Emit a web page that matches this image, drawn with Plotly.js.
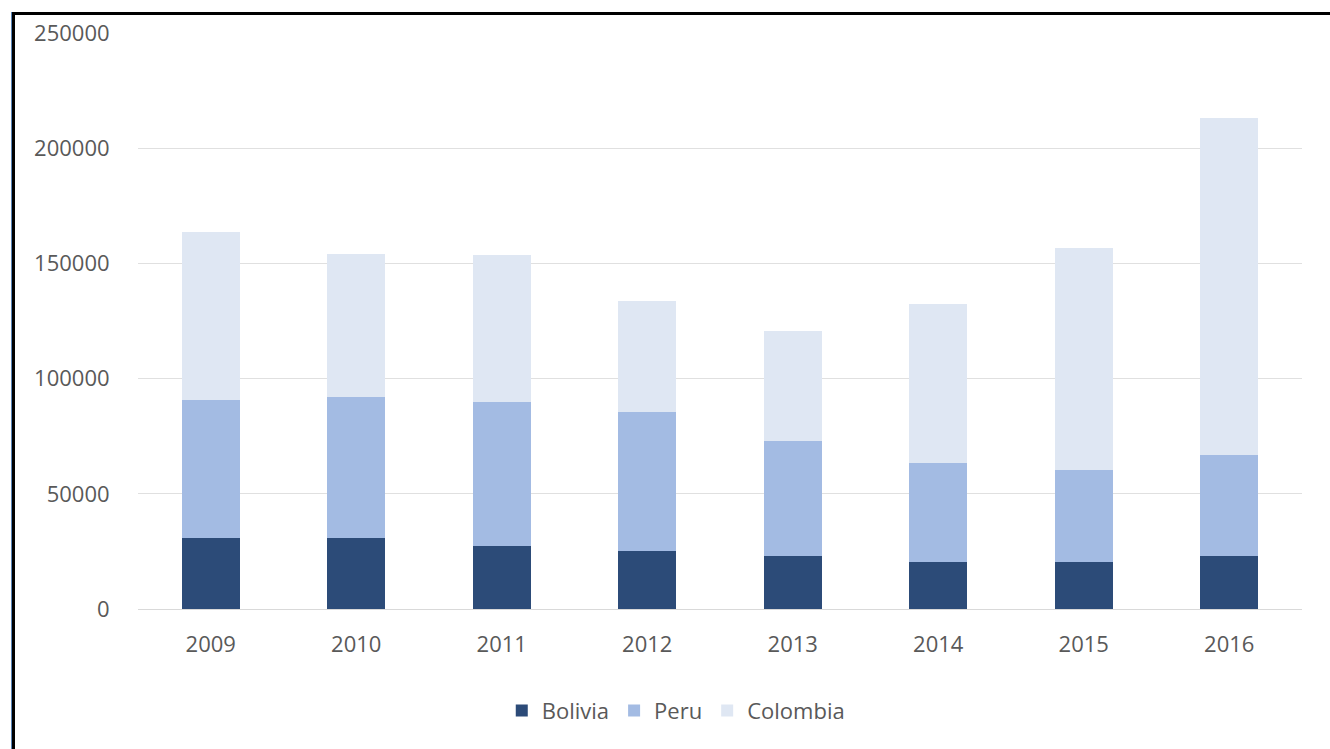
<!DOCTYPE html>
<html>
<head>
<meta charset="utf-8">
<script src="https://cdn.plot.ly/plotly-3.0.1.min.js"></script>
<style>
  html, body { margin: 0; padding: 0; background: #ffffff; }
  #wrap { position: relative; width: 1330px; height: 749px; overflow: hidden; }
  #chart { position: absolute; left: 0; top: 0; width: 1330px; height: 749px; }
  .frame-top { position: absolute; left: 12px; top: 12px; width: 1318px; height: 3px; background: #000; }
  .frame-left { position: absolute; left: 12px; top: 12px; width: 3px; height: 737px; background: #000; }
  .frame-blue { position: absolute; left: 11px; top: 12px; width: 1px; height: 737px; background: #5b86b8; }
</style>
</head>
<body>
<div id="wrap">
  <div id="chart"></div>
  <div class="frame-top"></div>
  <div class="frame-left"></div>
  <div class="frame-blue"></div>
</div>
<script>
const years = ['2009', '2010', '2011', '2012', '2013', '2014', '2015', '2016'];
const bolivia = [30900, 31000, 27200, 25300, 23000, 20400, 20200, 23100];
const peru = [59900, 61200, 62500, 60400, 49800, 42900, 40300, 43900];
const colombia = [73000, 62000, 64000, 48000, 48000, 69000, 96000, 146000];

const fontFam = '"Open Sans", "Liberation Sans", Arial, sans-serif';
const textColor = '#595959';

const traces = [
  { name: 'Bolivia', x: years, y: bolivia, type: 'bar', marker: { color: '#2c4b78' } },
  { name: 'Peru', x: years, y: peru, type: 'bar', marker: { color: '#a3bbe3' } },
  { name: 'Colombia', x: years, y: colombia, type: 'bar', marker: { color: '#dfe7f3' } }
];

const layout = {
  width: 1330,
  height: 749,
  margin: { l: 138, r: 28, t: 33, b: 140 },
  paper_bgcolor: '#ffffff',
  plot_bgcolor: '#ffffff',
  barmode: 'stack',
  bargap: 0.6,
  font: { family: fontFam, color: textColor, size: 22 },
  showlegend: true,
  legend: {
    orientation: 'h',
    x: 0.462, xanchor: 'center',
    y: -0.14, yanchor: 'top',
    font: { family: fontFam, size: 22, color: textColor },
    itemwidth: 30,
    traceorder: 'normal'
  },
  xaxis: {
    type: 'category',
    showgrid: false,
    showline: true,
    linecolor: '#d9d9d9',
    linewidth: 1,
    ticks: 'outside',
    ticklen: 16,
    tickcolor: 'rgba(0,0,0,0)',
    tickfont: { family: fontFam, size: 22, color: textColor },
    fixedrange: true
  },
  yaxis: {
    range: [0, 250000],
    dtick: 50000,
    tickformat: 'd',
    showgrid: true,
    gridcolor: '#e0e0e0',
    gridwidth: 1,
    zeroline: false,
    showline: false,
    ticks: 'outside',
    ticklen: 23,
    tickcolor: 'rgba(0,0,0,0)',
    tickfont: { family: fontFam, size: 22, color: textColor },
    fixedrange: true
  }
};

Plotly.newPlot('chart', traces, layout, { displayModeBar: false, staticPlot: true });
</script>
</body>
</html>
